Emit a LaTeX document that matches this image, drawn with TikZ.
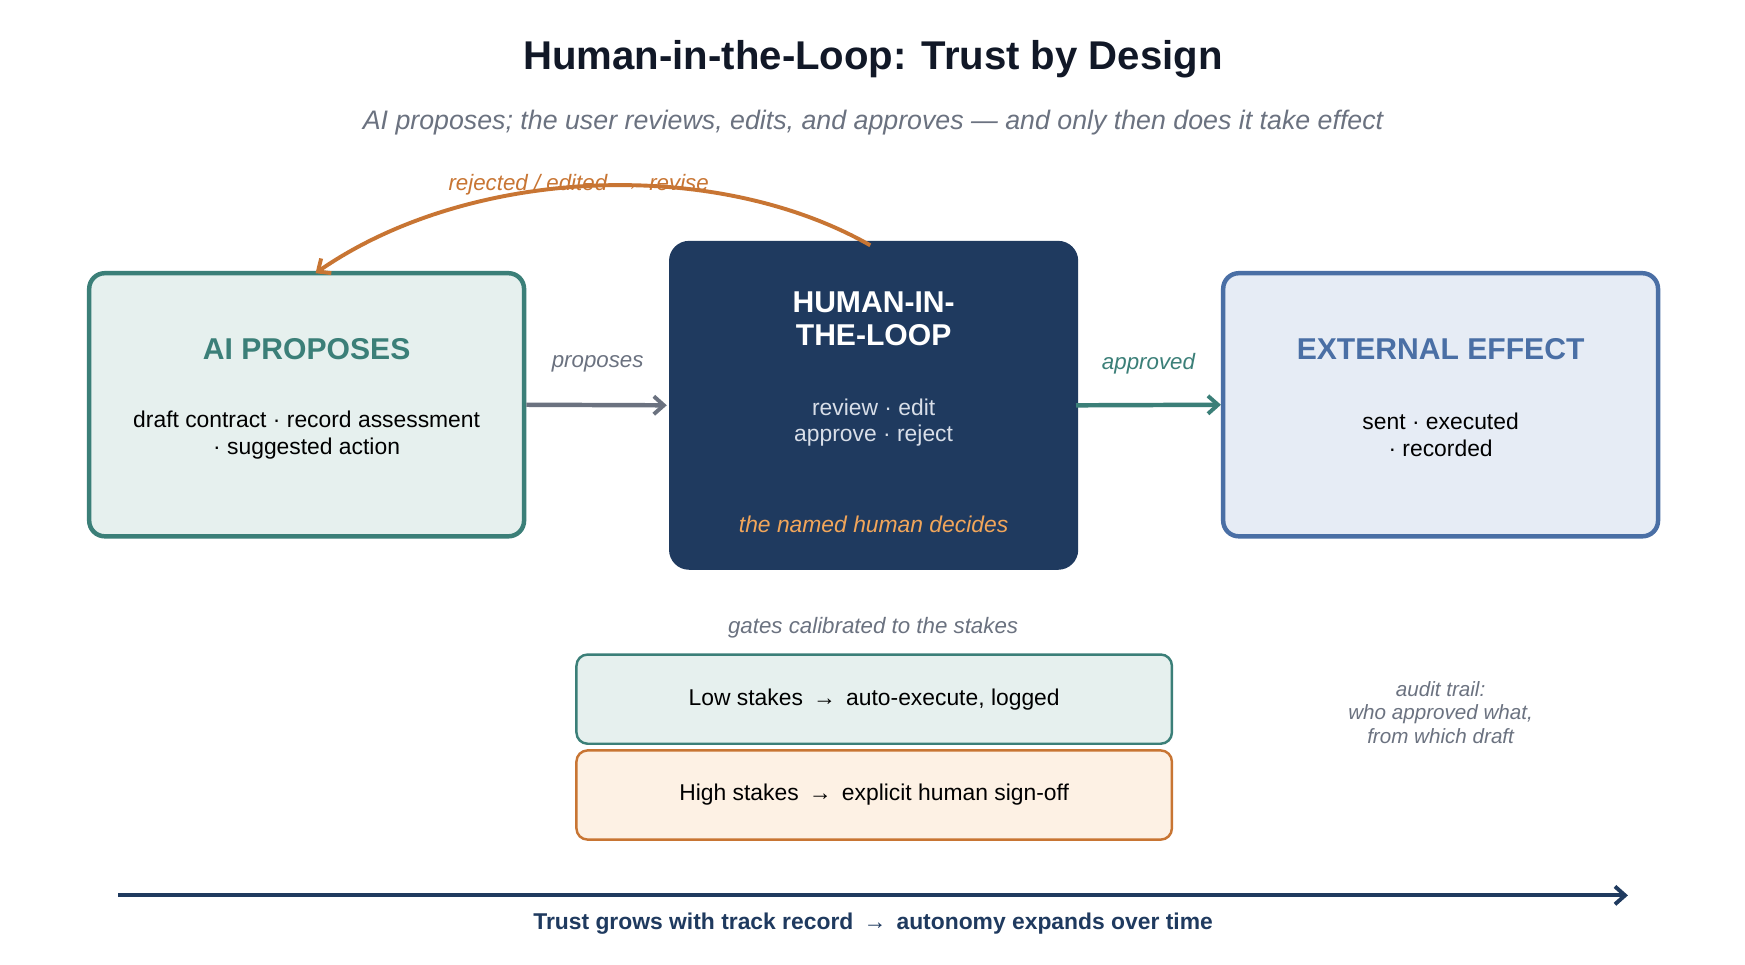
\documentclass[tikz,border=0pt]{standalone}
\usepackage{fontspec}
\setmainfont{Liberation Sans}
\usetikzlibrary{arrows.meta}
\definecolor{teal}{HTML}{3B7F78}
\definecolor{tealbg}{HTML}{E6F0EE}
\definecolor{navy}{HTML}{1F3A5F}
\definecolor{blu}{HTML}{4A6FA5}
\definecolor{blubg}{HTML}{E6ECF5}
\definecolor{org}{HTML}{C87533}
\definecolor{orgbg}{HTML}{FDF1E4}
\definecolor{gry}{HTML}{6B7280}
\definecolor{ttl}{HTML}{111827}
\definecolor{lt}{HTML}{D8DEE8}
\definecolor{peach}{HTML}{F2A65A}
\newcommand{\fs}[2]{\fontsize{#1}{#2}\selectfont}
\begin{document}
\begin{tikzpicture}[x=1pt,y=-1pt,
  box/.style={draw,rounded corners=14pt,line width=4pt,minimum width=390pt,minimum height=236pt,inner sep=0pt},
  gate/.style={draw,rounded corners=10pt,line width=2.2pt,minimum width=534pt,minimum height=80pt,inner sep=0pt,font=\fs{20.5}{24}},
  tip/.style={-{Straight Barb[length=9pt,width=16pt,line width=3.5pt]}},
  lbl/.style={font=\fs{20}{24}\itshape,inner sep=0pt},
  body/.style={font=\fs{20.5}{24},align=center,inner sep=0pt}]
\useasboundingbox[fill=white] (0,0) rectangle (1565,865);
\node[font=\fs{36}{42}\bfseries,text=ttl] (title) at (783,53) {Human-in-the-Loop: Trust by Design};
\node[font=\fs{24}{28}\itshape,text=gry] (sub) at (783,110) {AI proposes; the user reviews, edits, and approves — and only then does it take effect};
% boxes
\node[box,draw=teal,fill=tealbg] (ai) at (275,363) {};
\node[box,draw=none,fill=navy,rounded corners=18pt,minimum width=367pt,minimum height=295pt] (hitl) at (783.5,363.5) {};
\node[box,draw=blu,fill=blubg] (ext) at (1292,363) {};
\node[font=\fs{27}{31}\bfseries,text=teal] (ait) at (275,313) {AI PROPOSES};
\node[body] (aib) at (275,390) {draft contract · record assessment\\· suggested action};
\node[font=\fs{27}{30}\bfseries,text=white,align=center,inner sep=0pt] (ht) at (783.5,286) {HUMAN-IN-\\THE-LOOP};
\node[body,text=lt] (hb) at (783.5,379) {review · edit\\approve · reject};
\node[font=\fs{20.5}{24}\itshape,text=peach,inner sep=0pt] (hn) at (783.5,470) {the named human decides};
\node[font=\fs{27}{31}\bfseries,text=blu] (et) at (1292,313) {EXTERNAL EFFECT};
\node[body] (eb) at (1292,390) {sent · executed\\· recorded};
% arrows
\draw[tip,line width=4pt,gry] (ai.east) -- (hitl.west);
\node[lbl,text=gry] (lp) at (536,326) {proposes};
\draw[tip,line width=4pt,teal] ([xshift=-4pt]hitl.east) -- (ext.west);
\node[lbl,text=teal] (la) at (1030,326) {approved};
\draw[tip,line width=3.5pt,org] ([xshift=-3pt,yshift=-6pt]hitl.north) .. controls (640,140) and (420,150) .. ([xshift=8pt,yshift=-2pt]ai.north);
\node[lbl,text=org] (lr) at (519,166) {rejected / edited \,→\, revise};
% gates
\node[lbl,text=gry] (gl) at (783,563) {gates calibrated to the stakes};
\node[gate,draw=teal,fill=tealbg] (low) at (784,627) {Low stakes \,→\, auto-execute, logged};
\node[gate,draw=org,fill=orgbg] (high) at (784,713) {High stakes \,→\, explicit human sign-off};
\node[font=\fs{18.5}{21}\itshape,text=gry,align=center,inner sep=0pt] (audit) at (1292,639) {audit trail:\\who approved what,\\from which draft};
% trust arrow
\coordinate (t0) at (106,803);
\coordinate (t1) at (1460,803);
\draw[tip,line width=3.5pt,navy] (t0) -- (t1);
\node[font=\fs{20.5}{24}\bfseries,text=navy] (tl) at (783,828) {Trust grows with track record \,→\, autonomy expands over time};
\end{tikzpicture}
\end{document}
